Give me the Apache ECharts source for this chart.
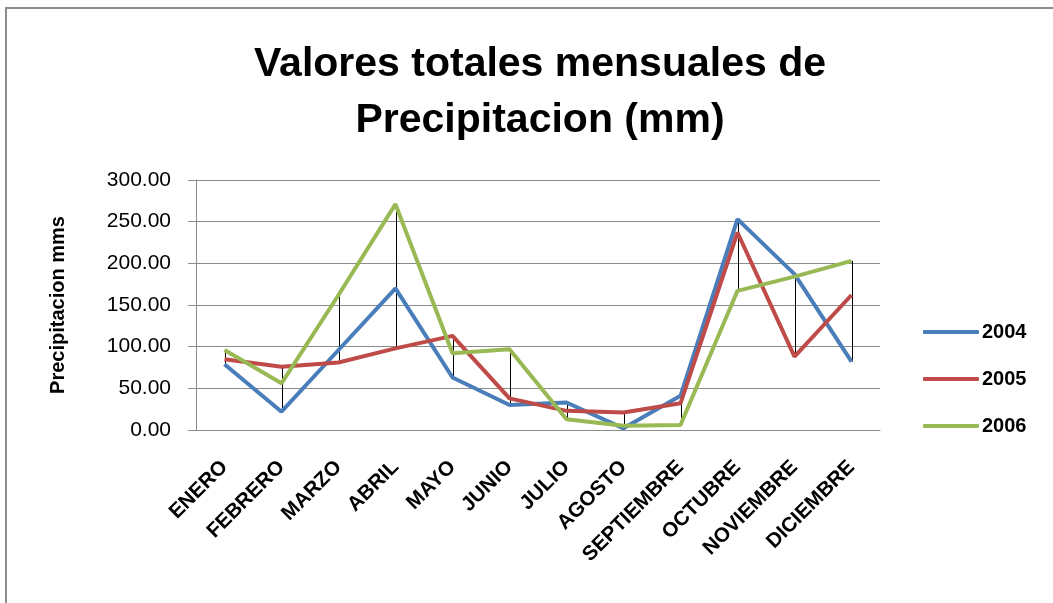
<!DOCTYPE html>
<html><head><meta charset="utf-8">
<script src="https://cdn.jsdelivr.net/npm/echarts@6/dist/echarts.min.js"></script>
<style>html,body{margin:0;padding:0;background:#fff}#c{width:1053px;height:603px}
#frame{position:absolute;left:5px;top:7px;width:1100px;height:700px;border:2px solid #8c8c8c;box-sizing:border-box;pointer-events:none}</style>
</head><body><div id="c"></div><div id="frame"></div>
<script>
const months = ['ENERO','FEBRERO','MARZO','ABRIL','MAYO','JUNIO','JULIO','AGOSTO','SEPTIEMBRE','OCTUBRE','NOVIEMBRE','DICIEMBRE'];
const s2004 = [79, 22, 96, 170, 63, 30, 33, 2, 41, 253, 187, 82];
const s2005 = [85, 76, 81, 98, 113, 38, 23, 21, 32, 237, 88, 162];
const s2006 = [96, 56, 162, 271, 92, 97, 13, 5, 6, 167, 184, 203];
const yTicks = [0, 50, 100, 150, 200, 250, 300];

const hiLo = months.map((m, i) => {
  const v = [s2004[i], s2005[i], s2006[i]];
  return [i, Math.min(...v), Math.max(...v)];
});
const font = "'Liberation Sans', sans-serif";
const chart = echarts.init(document.getElementById('c'));
chart.setOption({
  animation: false,
  title: {
    text: 'Valores totales mensuales de\nPrecipitacion (mm)',
    left: 535, top: 32, textAlign: 'center',
    textStyle: { fontFamily: font, fontWeight: 'bold', fontSize: 41, lineHeight: 56, color: '#000' }
  },
  legend: {
    orient: 'vertical', left: 918, top: 317, itemGap: 27, itemWidth: 56, itemHeight: 4,
    icon: 'roundRect',
    textStyle: { fontFamily: font, fontWeight: 'bold', fontSize: 20, color: '#000', padding: [0,0,0,-2] },
    data: ['2004', '2005', '2006']
  },
  grid: { left: 196, right: 173, top: 180, bottom: 173 },
  xAxis: {
    type: 'category', data: months, boundaryGap: true,
    axisLine: { lineStyle: { color: '#8c8c8c', width: 1 } },
    axisTick: { show: false },
    axisLabel: { rotate: 45, interval: 0, margin: 34, fontFamily: font, fontWeight: 'bold', fontSize: 20.5, color: '#000' }
  },
  yAxis: {
    type: 'value', min: 0, max: 300, interval: 50,
    name: 'Precipitacion mms', nameLocation: 'middle', nameGap: 128, nameRotate: 90,
    nameTextStyle: { fontFamily: font, fontWeight: 'bold', fontSize: 20, color: '#000' },
    axisLine: { show: true, lineStyle: { color: '#8c8c8c' } },
    axisTick: { show: true, length: 8, lineStyle: { color: '#8c8c8c' } },
    splitLine: { lineStyle: { color: '#8c8c8c', width: 1 } },
    axisLabel: { margin: 25, fontFamily: font, fontSize: 21, color: '#000',
      formatter: v => yTicks.includes(v) ? v.toFixed(2) : '' }
  },
  series: [
    { type: 'custom', name: 'hilo', silent: true, z: 1,
      renderItem: (params, api) => {
        const a = api.coord([api.value(0), api.value(1)]);
        const b = api.coord([api.value(0), api.value(2)]);
        return { type: 'line', shape: { x1: Math.round(a[0]) + 0.5, y1: a[1], x2: Math.round(b[0]) + 0.5, y2: b[1] },
          style: { stroke: '#000', lineWidth: 1 } };
      },
      encode: { x: 0, y: [1, 2] },
      data: hiLo },
    { type: 'line', name: '2004', data: s2004, symbol: 'none', lineStyle: { width: 4, color: '#4A7EBB' }, itemStyle: { color: '#4A7EBB' }, z: 2 },
    { type: 'line', name: '2005', data: s2005, symbol: 'none', lineStyle: { width: 4, color: '#BE4B48' }, itemStyle: { color: '#BE4B48' }, z: 3 },
    { type: 'line', name: '2006', data: s2006, symbol: 'none', lineStyle: { width: 4, color: '#98B954' }, itemStyle: { color: '#98B954' }, z: 4 }
  ]
});
</script></body></html>
